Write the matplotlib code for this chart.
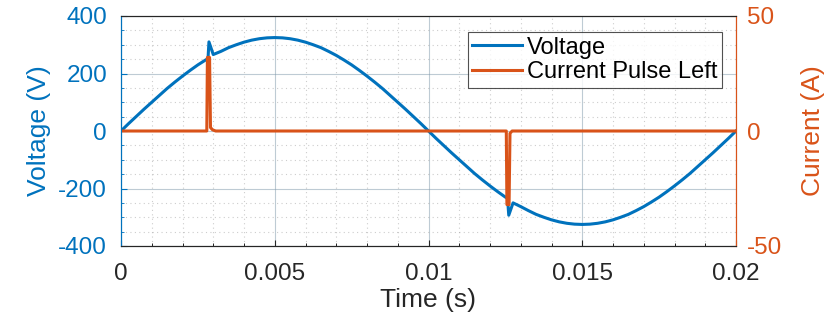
import matplotlib
matplotlib.use("Agg")
import matplotlib.pyplot as plt
from matplotlib.ticker import MultipleLocator

# Voltage waveform samples (s, V)
v_time = [0.0, 0.00025, 0.0005, 0.00075, 0.001, 0.00125, 0.0015, 0.00175, 0.002, 0.00225,
          0.0025, 0.00275, 0.00283, 0.00286, 0.003, 0.00325, 0.0035, 0.00375, 0.004, 0.00425,
          0.0045, 0.00475, 0.005, 0.00525, 0.0055, 0.00575, 0.006, 0.00625, 0.0065, 0.00675,
          0.007, 0.00725, 0.0075, 0.00775, 0.008, 0.00825, 0.0085, 0.00875, 0.009, 0.00925,
          0.0095, 0.00975, 0.01, 0.01025, 0.0105, 0.01075, 0.011, 0.01125, 0.0115, 0.01175,
          0.012, 0.01225, 0.0125, 0.01257, 0.01261, 0.01275, 0.013, 0.01325, 0.0135, 0.01375,
          0.014, 0.01425, 0.0145, 0.01475, 0.015, 0.01525, 0.0155, 0.01575, 0.016, 0.01625,
          0.0165, 0.01675, 0.017, 0.01725, 0.0175, 0.01775, 0.018, 0.01825, 0.0185, 0.01875,
          0.019, 0.01925, 0.0195, 0.01975, 0.02]
voltage = [0, 26, 51, 76, 100, 124, 148, 170, 191, 211,
           230, 247, 252, 310, 266, 277, 290, 300, 309, 316,
           321, 324, 325, 324, 321, 316, 309, 300, 290, 277,
           263, 247, 230, 211, 191, 170, 148, 124, 100, 76,
           51, 26, 0, -26, -51, -76, -100, -124, -148, -170,
           -191, -211, -230, -234, -293, -250, -263, -277, -290, -300,
           -309, -316, -321, -324, -325, -324, -321, -316, -309, -300,
           -290, -277, -263, -247, -230, -211, -191, -170, -148, -124,
           -100, -76, -51, -26, 0]

# Current pulse samples (s, A)
i_time = [0.0000, 0.00279, 0.00281, 0.00288, 0.00291, 0.00298, 0.00308,
          0.01253, 0.01255, 0.01262, 0.01265, 0.01272, 0.0200]
current = [0, 0, 32, 32, 1.5, 0.5, 0,
           0, -32, -32, -1, 0, 0]

x_ticks = [0, 0.005, 0.01, 0.015, 0.02]
x_tick_labels = ['0', '0.005', '0.01', '0.015', '0.02']

BLUE = "#0072BD"
ORANGE = "#D95319"
DARK = "#262626"
plt.rcParams['font.family'] = ['Liberation Sans', 'DejaVu Sans']
plt.rcParams['axes.unicode_minus'] = False

fig = plt.figure(figsize=(8.33, 3.28), dpi=100)
ax = fig.add_axes([121/833, 1 - 246/328, (736-121)/833, (246-16)/328])
ax2 = ax.twinx()

ax.set_xlim(0, 0.02)
ax.set_ylim(-400, 400)
ax2.set_ylim(-50, 50)

ax.xaxis.set_minor_locator(MultipleLocator(0.001))
ax.yaxis.set_major_locator(MultipleLocator(200))
ax.yaxis.set_minor_locator(MultipleLocator(50))
ax2.yaxis.set_major_locator(MultipleLocator(50))

ax.grid(True, which='major', color='#7f98ab', alpha=0.5, linewidth=0.8)
ax.grid(True, which='minor', color='#909090', alpha=0.45, linestyle=(0, (1, 3)), linewidth=0.8)
ax.set_axisbelow(True)

lv, = ax.plot(v_time, voltage, color=BLUE, linewidth=2.2, label='Voltage')
li, = ax2.plot(i_time, current, color=ORANGE, linewidth=2.2, label='Current Pulse Left')

ax.set_xticks(x_ticks)
ax.set_xticklabels(x_tick_labels)
ax.tick_params(axis='x', labelsize=17.5, colors=DARK, direction='in', length=4, pad=12.6)
ax.tick_params(axis='x', which='minor', direction='in', length=2.5)
ax.tick_params(axis='y', labelsize=17.5, colors=BLUE, direction='in', length=4, pad=10)
ax.tick_params(axis='y', which='minor', direction='in', length=2.5, colors=BLUE)
ax2.tick_params(axis='y', labelsize=17.5, colors=ORANGE, direction='in', length=4, pad=8)

ax.set_xlabel('Time (s)', fontsize=19, color=DARK, labelpad=1.5)
ax.set_ylabel('Voltage (V)', fontsize=19, color=BLUE, labelpad=5)
ax2.set_ylabel('Current (A)', fontsize=19, color=ORANGE, labelpad=13.5)

for a in (ax, ax2):
    a.spines['top'].set_color(DARK)
    a.spines['bottom'].set_color(DARK)
    a.spines['left'].set_color(BLUE)
    a.spines['right'].set_color(ORANGE)
    for s in a.spines.values():
        s.set_linewidth(0.8)

leg = ax2.legend(handles=[lv, li], loc='upper right', bbox_to_anchor=(722/833, 1 - 32/328),
                 bbox_transform=fig.transFigure, fontsize=17, frameon=True, fancybox=False,
                 edgecolor=DARK, handlelength=2.1, handletextpad=0.2, borderpad=0.2,
                 labelspacing=0.1, borderaxespad=0)
leg.get_frame().set_linewidth(0.8)

fig.savefig('out.png', dpi=100)
